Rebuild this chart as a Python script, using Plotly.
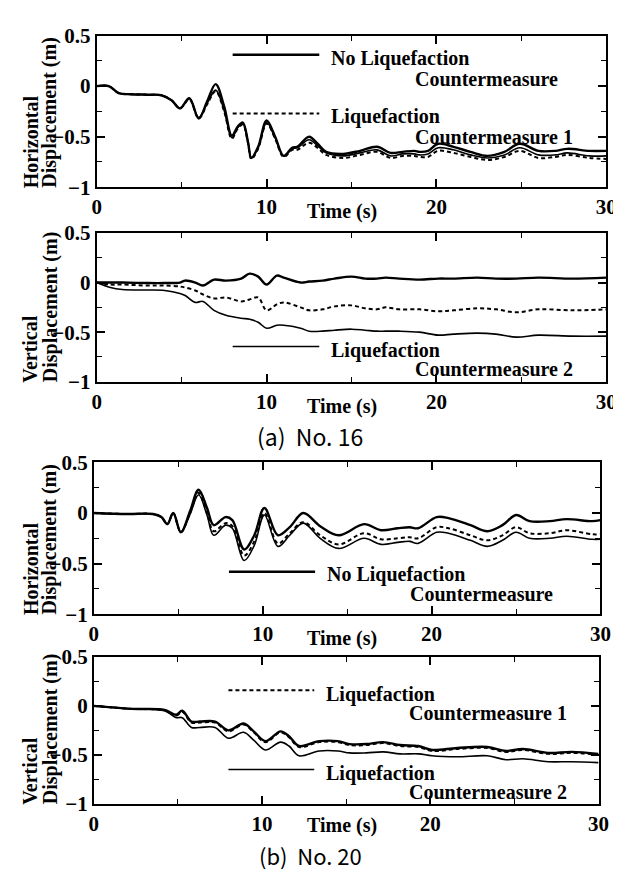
import plotly.graph_objects as go

# ---- data: (a) No. 16, horizontal ----
t_a_h = [0, 0.7, 1.3, 2, 3, 3.8, 4.4, 4.9, 5.45, 6.0, 6.5, 7.0, 7.5, 7.95, 8.3,
         8.6, 8.9, 9.1, 9.5, 10.0, 10.5, 11.0, 11.5, 11.8, 12.5, 13.0, 13.5, 14.5, 15.5, 16.5,
         17.3, 18.0, 18.7, 19.0, 19.5, 20.1, 21.0, 22.0, 23.0, 24.0, 24.9, 26.0, 27.0, 27.7, 29.0, 30.0]
a_h_noliq = [0, 0, -0.07, -0.08, -0.085, -0.09, -0.14, -0.22, -0.12, -0.32, -0.15, 0.02, -0.2, -0.49, -0.4,
             -0.36, -0.55, -0.71, -0.6, -0.34, -0.5, -0.69, -0.61, -0.6, -0.5, -0.57, -0.65, -0.67, -0.64, -0.6,
             -0.66, -0.65, -0.64, -0.65, -0.64, -0.57, -0.6, -0.65, -0.69, -0.65, -0.57, -0.64, -0.64, -0.62, -0.64, -0.64]
a_h_cm1 = [0, 0, -0.07, -0.08, -0.085, -0.09, -0.14, -0.22, -0.13, -0.32, -0.18, -0.05, -0.25, -0.52, -0.42,
           -0.38, -0.56, -0.72, -0.62, -0.37, -0.52, -0.7, -0.63, -0.63, -0.56, -0.61, -0.68, -0.71, -0.68, -0.65,
           -0.71, -0.69, -0.69, -0.7, -0.7, -0.64, -0.66, -0.7, -0.73, -0.7, -0.64, -0.71, -0.7, -0.68, -0.71, -0.72]
a_h_cm2 = [0, 0, -0.07, -0.08, -0.085, -0.09, -0.14, -0.22, -0.12, -0.31, -0.17, -0.04, -0.24, -0.51, -0.41,
           -0.37, -0.55, -0.71, -0.61, -0.36, -0.51, -0.69, -0.62, -0.61, -0.53, -0.59, -0.66, -0.69, -0.66, -0.63,
           -0.69, -0.67, -0.67, -0.68, -0.67, -0.61, -0.63, -0.68, -0.71, -0.68, -0.61, -0.68, -0.68, -0.66, -0.69, -0.69]

# ---- data: (a) No. 16, vertical ----
t_a_v = [0, 0.8, 1.5, 3, 4, 4.9, 5.2, 5.8, 6.25, 6.9, 7.6, 8.5, 9.0, 9.5, 10.0,
         10.6, 11.0, 12.0, 12.5, 13.3, 14.0, 15.0, 15.8, 16.5, 17.0, 17.8, 19.0, 20.1, 21.0, 22.4,
         23.5, 24.7, 26.0, 28.0, 30.0]
a_v_noliq = [0, 0, 0, -0.005, -0.005, 0.0, 0.02, 0.0, -0.03, 0.03, 0.02, 0.04, 0.09, 0.06, -0.02,
             0.07, 0.05, 0.0, 0.01, 0.02, 0.04, 0.06, 0.04, 0.04, 0.05, 0.04, 0.03, 0.04, 0.04, 0.05,
             0.04, 0.04, 0.05, 0.04, 0.05]
a_v_cm1 = [0, -0.02, -0.02, -0.03, -0.03, -0.04, -0.05, -0.08, -0.12, -0.16, -0.15, -0.19, -0.17, -0.15, -0.28,
           -0.22, -0.2, -0.25, -0.28, -0.27, -0.24, -0.23, -0.26, -0.27, -0.25, -0.27, -0.27, -0.29, -0.28, -0.26,
           -0.27, -0.3, -0.27, -0.28, -0.27]
a_v_cm2 = [0, -0.05, -0.07, -0.075, -0.08, -0.11, -0.13, -0.2, -0.19, -0.28, -0.33, -0.36, -0.37, -0.4, -0.46,
           -0.43, -0.43, -0.46, -0.49, -0.49, -0.48, -0.47, -0.48, -0.49, -0.49, -0.49, -0.5, -0.53, -0.52, -0.51,
           -0.52, -0.55, -0.53, -0.54, -0.54]

# ---- data: (b) No. 20, horizontal ----
t_b_h = [0, 2, 3.5, 4.0, 4.35, 4.7, 5.15, 5.7, 6.2, 6.7, 7.1, 7.8, 8.2, 8.9, 9.5,
         10.1, 10.9, 11.6, 12.4, 13.4, 14.5, 16.0, 17.0, 18.0, 18.7, 19.2, 20.3, 21.0, 22.3, 23.3,
         24.2, 25.0, 25.8, 27.0, 28.0, 29.5, 30.0]
b_h_noliq = [0, -0.01, -0.01, -0.04, -0.11, 0.0, -0.19, 0.02, 0.23, 0.05, -0.12, -0.04, -0.07, -0.36, -0.22,
             0.05, -0.22, -0.14, 0.0, -0.13, -0.22, -0.11, -0.17, -0.15, -0.14, -0.15, -0.04, -0.05, -0.12, -0.18,
             -0.12, -0.02, -0.08, -0.08, -0.06, -0.08, -0.07]
b_h_cm1 = [0, -0.01, -0.01, -0.04, -0.11, 0.0, -0.19, 0.0, 0.2, 0.0, -0.18, -0.1, -0.13, -0.42, -0.28,
           0.0, -0.3, -0.2, -0.09, -0.22, -0.31, -0.2, -0.26, -0.25, -0.24, -0.25, -0.14, -0.15, -0.22, -0.27,
           -0.22, -0.14, -0.2, -0.2, -0.17, -0.21, -0.21]
b_h_cm2 = [0, -0.01, -0.01, -0.04, -0.11, 0.0, -0.19, -0.01, 0.18, -0.02, -0.22, -0.12, -0.15, -0.47, -0.32,
           -0.02, -0.33, -0.22, -0.1, -0.25, -0.35, -0.25, -0.31, -0.29, -0.28, -0.3, -0.19, -0.2, -0.27, -0.33,
           -0.27, -0.19, -0.25, -0.25, -0.23, -0.26, -0.26]

# ---- data: (b) No. 20, vertical ----
t_b_v = [0, 2.2, 4.2, 4.9, 5.25, 5.8, 6.3, 7.2, 8.0, 8.9, 9.5, 10.2, 11.1, 11.6, 12.2,
         13.4, 14.5, 15.2, 16.2, 17.2, 18.2, 19.3, 20.1, 21.6, 23.4, 24.5, 25.5, 27.0, 28.4, 30.0]
b_v_noliq = [0, -0.03, -0.04, -0.09, -0.05, -0.16, -0.16, -0.16, -0.25, -0.18, -0.26, -0.36, -0.26, -0.31, -0.41,
             -0.36, -0.36, -0.39, -0.39, -0.37, -0.4, -0.41, -0.45, -0.43, -0.42, -0.46, -0.44, -0.48, -0.47, -0.49]
b_v_cm1 = [0, -0.03, -0.045, -0.1, -0.06, -0.17, -0.17, -0.17, -0.26, -0.19, -0.27, -0.37, -0.27, -0.32, -0.42,
           -0.37, -0.37, -0.4, -0.4, -0.38, -0.41, -0.42, -0.46, -0.44, -0.43, -0.47, -0.45, -0.49, -0.48, -0.5]
b_v_cm2 = [0, -0.03, -0.05, -0.12, -0.12, -0.22, -0.22, -0.22, -0.33, -0.27, -0.35, -0.45, -0.37, -0.41, -0.51,
           -0.46, -0.46, -0.48, -0.48, -0.47, -0.49, -0.49, -0.51, -0.52, -0.51, -0.55, -0.54, -0.57, -0.57, -0.58]

x_ticks = [0, 10, 20, 30]
y_ticks = [0.5, 0, -0.5, -1]
y_ticktext = ["0.5", "0", "\u22120.5", "\u22121"]
captions = ["(a)  No. 16", "(b)  No. 20"]

W, H = 621, 871
SERIF = "Liberation Serif"

def px(x):
    return x / W

def py(y):
    return 1 - y / H

# panel boxes in pixels: left, right, top, bottom
boxes = [(86, 609, 16, 172), (86, 609, 219, 372), (83, 603, 455, 611), (83, 601, 655, 806)]
panels = [
    (t_a_h, a_h_noliq, a_h_cm1, a_h_cm2, "Horizontal"),
    (t_a_v, a_v_noliq, a_v_cm1, a_v_cm2, "Vertical"),
    (t_b_h, b_h_noliq, b_h_cm1, b_h_cm2, "Horizontal"),
    (t_b_v, b_v_noliq, b_v_cm1, b_v_cm2, "Vertical"),
]

bold = dict(family=SERIF, size=21, color="black", weight="bold")
fig = go.Figure()
annotations = []
shapes = []

for i, ((t, noliq, cm1, cm2, kind), (l, r, tp, bt)) in enumerate(zip(panels, boxes)):
    n = "" if i == 0 else str(i + 1)
    xa, ya = "x" + n, "y" + n
    common = dict(x=t, xaxis=xa, yaxis=ya, mode="lines", showlegend=False, line_shape="spline")
    fig.add_trace(go.Scatter(y=cm2, line=dict(color="black", width=1.6), **common))
    fig.add_trace(go.Scatter(y=cm1, line=dict(color="black", width=2.0, dash="4px,3px"), **common))
    fig.add_trace(go.Scatter(y=noliq, line=dict(color="black", width=2.4), **common))

    axis_common = dict(showline=True, linecolor="black", linewidth=2, mirror="allticks",
                       ticks="inside", ticklen=8, tickwidth=1.5, tickcolor="black",
                       showgrid=False, zeroline=False, tickfont=bold)
    fig.layout["xaxis" + n] = dict(domain=[px(l), px(r)], range=[0, 30], anchor=ya,
                                   tickvals=x_ticks, ticktext=["<b>%d</b>" % v for v in x_ticks],
                                   minor=dict(tickvals=[5, 15, 25], ticklen=5, ticks="inside",
                                              tickcolor="black", tickwidth=1.2),
                                   **axis_common)
    fig.layout["yaxis" + n] = dict(domain=[py(bt), py(tp)], range=[-1, 0.5], anchor=xa,
                                   tickvals=y_ticks, ticktext=["<b>%s</b>" % s for s in y_ticktext],
                                   minor=dict(tickvals=[0.25, -0.25, -0.75], ticklen=5, ticks="inside",
                                              tickcolor="black", tickwidth=1.2),
                                   **axis_common)

    # y titles
    for txt, xc in ((kind, 18), ("Displacement (m)", 38)):
        annotations.append(dict(text="<b>%s</b>" % txt, xref="paper", yref="paper", x=px(xc), y=py(bt + 3),
                                xanchor="center", yanchor="bottom", textangle=-90, showarrow=False,
                                font=dict(family=SERIF, size=20, color="black")))
    # x title
    annotations.append(dict(text="<b>Time (s)</b>", xref="paper", yref="paper", x=px(338),
                            y=py(bt + (22 if i == 3 else 25)),
                            xanchor="center", yanchor="middle", showarrow=False,
                            font=dict(family=SERIF, size=20, color="black")))

lab_font = dict(family=SERIF, size=20, color="black")

def legend_item(panel, y_line, y_txt1, y_txt2, text1, text2, dash, width):
    n = "" if panel == 0 else str(panel + 1)
    shapes.append(dict(type="line", xref="x" + n, yref="y" + n, x0=8.0, x1=13.1, y0=y_line, y1=y_line,
                       line=dict(color="black", width=width, dash=dash)))
    annotations.append(dict(text="<b>%s</b>" % text1, xref="x" + n, yref="y" + n, x=13.7, y=y_txt1,
                            xanchor="left", yanchor="middle", showarrow=False, font=lab_font))
    annotations.append(dict(text="<b>%s</b>" % text2, xref="x" + n, yref="y" + n, x=18.6, y=y_txt2,
                            xanchor="left", yanchor="middle", showarrow=False, font=lab_font))

legend_item(0, 0.31, 0.27, 0.07, "No Liquefaction", "Countermeasure", "solid", 2.4)
legend_item(0, -0.27, -0.30, -0.50, "Liquefaction", "Countermeasure 1", "4px,3px", 2.0)
legend_item(1, -0.645, -0.68, -0.87, "Liquefaction", "Countermeasure 2", "solid", 1.6)
legend_item(2, -0.58, -0.61, -0.80, "No Liquefaction", "Countermeasure", "solid", 2.4)
legend_item(3, 0.16, 0.12, -0.07, "Liquefaction", "Countermeasure 1", "4px,3px", 2.0)
legend_item(3, -0.65, -0.69, -0.88, "Liquefaction", "Countermeasure 2", "solid", 1.6)

for cap, yc, fs in zip(captions, (428, 859), (23, 22)):
    annotations.append(dict(text=cap, xref="paper", yref="paper", x=px(305), y=py(yc),
                            xanchor="center", yanchor="middle", showarrow=False,
                            font=dict(family="Noto Sans CJK JP", size=fs, color="black")))

fig.update_layout(width=W, height=H, margin=dict(l=0, r=0, t=0, b=0),
                  plot_bgcolor="white", paper_bgcolor="white",
                  annotations=annotations, shapes=shapes)

fig.write_html("out.html")
